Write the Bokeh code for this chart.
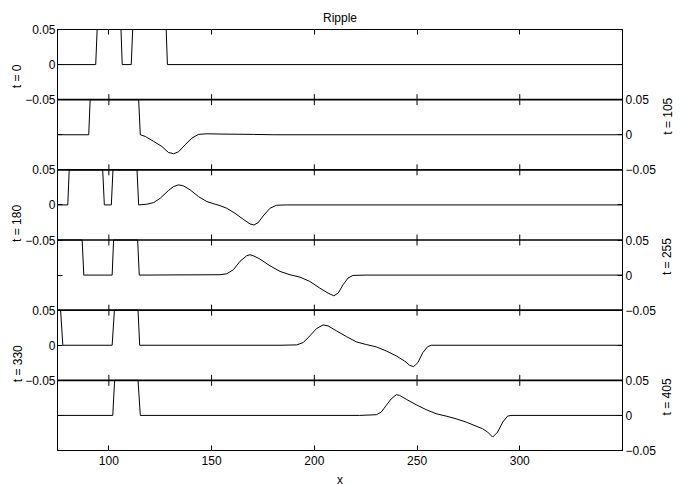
import math
from bokeh.plotting import figure
from bokeh.models import LinearAxis, Range1d, FixedTicker, Span
from bokeh.embed import file_html
from bokeh.resources import INLINE

title = "Ripple"
x_label = "x"
times = [0, 105, 180, 255, 330, 405]
x_ticks = [100, 150, 200, 250, 300]
y_ticks = [-0.05, 0, 0.05]
x_lim = (75, 350)
y_lim = (-0.05, 0.05)

# values above the panel limit are shown clipped at the panel top (0.05)
x_t0 = [75, 93.6, 94.3, 105.9, 106.5, 110.9, 111.6, 127.9, 128.5, 350]
y_t0 = [0, 0, 0.05, 0.05, 0, 0, 0.05, 0.05, 0, 0]

x_t105 = [75, 90.2, 90.9, 114.5, 115.3, 117.7, 121.8, 125.8, 129.0, 131.5, 133.9,
          137.1, 140.4, 143.6, 147.7, 154.1, 170.3, 180, 350]
y_t105 = [0, 0, 0.05, 0.05, 0, -0.0024, -0.0095, -0.0167, -0.0252, -0.0271, -0.0243,
          -0.0143, -0.0048, 0.0005, 0.0014, 0.001, 0.0005, 0, 0]

x_t180 = [75, 80.0, 80.7, 97.0, 97.8, 101.2, 102.0, 113.7, 114.5, 118.5, 121.8, 125.0,
          129.0, 131.5, 133.9, 136.3, 139.6, 143.6, 147.7, 151.7, 154.1, 157.4,
          161.4, 165.4, 168.7, 170.6, 172.7, 175.1, 178.4, 181.6, 186.5, 350]
y_t180 = [0, 0, 0.05, 0.05, 0, 0, 0.05, 0.05, 0, 0.001, 0.0033, 0.0095,
          0.0205, 0.0262, 0.0286, 0.0271, 0.0214, 0.0119, 0.0048, 0.001, -0.001, -0.0048,
          -0.0119, -0.0205, -0.0271, -0.0286, -0.0252, -0.0157, -0.0048, -0.0005, 0, 0]

x_t255 = [75, 87.0, 87.8, 101.6, 102.3, 114.0, 114.8, 154.1, 157.4, 160.6, 163.8,
          167.1, 168.7, 170.3, 173.5, 178.4, 183.3, 188.1, 193.0, 197.8, 202.7,
          206.7, 209.5, 211.6, 214.0, 216.4, 218.8, 225.3, 350]
y_t255 = [0.05, 0.05, 0, 0, 0.05, 0.05, 0, 0.0005, 0.0019, 0.0076, 0.0195,
          0.0276, 0.029, 0.0276, 0.0229, 0.0133, 0.0052, 0.0005, -0.0029, -0.009, -0.0186,
          -0.0257, -0.0295, -0.0257, -0.0138, -0.0043, -0.0005, 0, 0]

x_t330 = [75, 76.5, 77.6, 101.6, 102.7, 114.2, 115.0, 183.3, 191.4, 194.6, 197.8,
          201.1, 204.3, 206.7, 210.8, 215.6, 220.5, 225.3, 230.2, 235.0, 239.9,
          243.9, 246.4, 248.3, 250.4, 252.8, 255.2, 256.9, 350]
y_t330 = [0.05, 0.05, 0, 0, 0.05, 0.05, 0, 0, 0.0005, 0.0038, 0.0133,
          0.0238, 0.029, 0.0276, 0.0205, 0.0124, 0.0048, 0.001, -0.0024, -0.0081, -0.0152,
          -0.0224, -0.0286, -0.0305, -0.0248, -0.0105, -0.0019, 0, 0]

x_t405 = [75, 101.9, 102.8, 114.2, 115.3, 222.1, 230.2, 232.6, 235.0, 237.5, 239.9,
          241.5, 244.8, 249.6, 254.5, 259.3, 264.2, 269.0, 273.9, 278.7, 281.9,
          284.4, 286.8, 289.2, 291.7, 294.1, 295.7, 350]
y_t405 = [0, 0, 0.05, 0.05, 0, 0, 0.001, 0.0048, 0.0143, 0.0238, 0.0295,
          0.0286, 0.0229, 0.0152, 0.0081, 0.0024, -0.001, -0.0048, -0.0095, -0.0152, -0.019,
          -0.0238, -0.0309, -0.0238, -0.0095, -0.001, 0, 0]

series = [(x_t0, y_t0), (x_t105, y_t105), (x_t180, y_t180),
          (x_t255, y_t255), (x_t330, y_t330), (x_t405, y_t405)]

FONT = "Liberation Sans"
FS = "12px"
n = len(times)
span = y_lim[1] - y_lim[0]


def fmt(v):
    s = f"{v:g}"
    return s.replace("-", "\u2212")


p = figure(frame_width=565, frame_height=421,
           x_range=Range1d(*x_lim), y_range=Range1d(0, n),
           output_backend="svg", toolbar_location=None,
           x_axis_location=None, y_axis_location=None,
           min_border_left=57, min_border_right=59,
           min_border_top=29, min_border_bottom=35,
           title=title)
p.grid.visible = False
p.outline_line_color = "black"
p.outline_line_width = 1
p.title.text_font = FONT
p.title.text_font_size = FS
p.title.text_font_style = "normal"
p.title.text_color = "black"
p.title.align = "center"
p.title.offset = -12
p.title.standoff = 9


def style_axis(ax):
    ax.major_tick_in = 5
    ax.major_tick_out = 0
    ax.minor_tick_in = 5
    ax.minor_tick_out = 0
    ax.axis_line_color = "black"
    ax.major_tick_line_color = "black"
    ax.minor_tick_line_color = "black"
    ax.major_label_text_font = FONT
    ax.major_label_text_font_size = FS
    ax.major_label_text_color = "black"
    ax.major_label_standoff = 3
    ax.axis_label_text_font = FONT
    ax.axis_label_text_font_size = FS
    ax.axis_label_text_font_style = "normal"
    ax.axis_label_text_color = "black"


# y axes: labelled ticks on the left for even panels, on the right for odd panels
sides = {"left": ([], [], {}, [], {}), "right": ([], [], {}, [], {})}
for k in range(n):
    b = n - 1 - k
    lab_side = "left" if k % 2 == 0 else "right"
    other = "right" if lab_side == "left" else "left"
    for v in y_ticks:
        pos = b + (v - y_lim[0]) / span
        sides[lab_side][0].append(pos)
        sides[lab_side][2][pos] = fmt(v)
    sides[other][1].append(b + (0 - y_lim[0]) / span)
    centre = b + 0.5
    sides[lab_side][3].append(centre)
    sides[lab_side][4][centre] = f"t = {times[k]}"

num_standoff = {"left": 2, "right": 3}
for side, (major, minor, labels, name_pos, names) in sides.items():
    ax = LinearAxis(ticker=FixedTicker(ticks=sorted(set(major)), minor_ticks=minor),
                    major_label_overrides=labels)
    style_axis(ax)
    ax.major_label_standoff = num_standoff[side]
    p.add_layout(ax, side)

name_standoff = {"left": 5, "right": 9}
for side, (major, minor, labels, name_pos, names) in sides.items():
    nax = LinearAxis(ticker=FixedTicker(ticks=name_pos, minor_ticks=[]),
                     major_label_overrides=names)
    style_axis(nax)
    nax.axis_line_color = None
    nax.major_tick_line_color = None
    nax.minor_tick_line_color = None
    nax.major_tick_in = 0
    nax.minor_tick_in = 0
    nax.major_label_orientation = math.pi / 2
    nax.major_label_standoff = name_standoff[side]
    p.add_layout(nax, side)

# x axes
above = LinearAxis(ticker=FixedTicker(ticks=x_ticks))
style_axis(above)
above.major_label_text_color = None
p.add_layout(above, "above")

below = LinearAxis(ticker=FixedTicker(ticks=x_ticks), axis_label=x_label)
style_axis(below)
below.major_label_standoff = 5
below.axis_label_standoff = 5
p.add_layout(below, "below")

# panel boundaries and their tick marks
for b in range(1, n):
    p.add_layout(Span(location=b, dimension="width", line_color="black", line_width=1.6))
    p.scatter(x_ticks, [b] * len(x_ticks), marker="dash", angle=math.pi / 2, size=11,
              line_color="black", line_width=1)

# panel curves, each through its own y range
for k, (xv, yv) in enumerate(series):
    b = n - 1 - k
    name = f"panel{k}"
    p.extra_y_ranges[name] = Range1d(start=y_lim[0] - b * span, end=y_lim[0] + (n - b) * span)
    p.line(xv, yv, line_color="black", line_width=1, y_range_name=name)

open("out.html", "w").write(file_html(p, INLINE))
